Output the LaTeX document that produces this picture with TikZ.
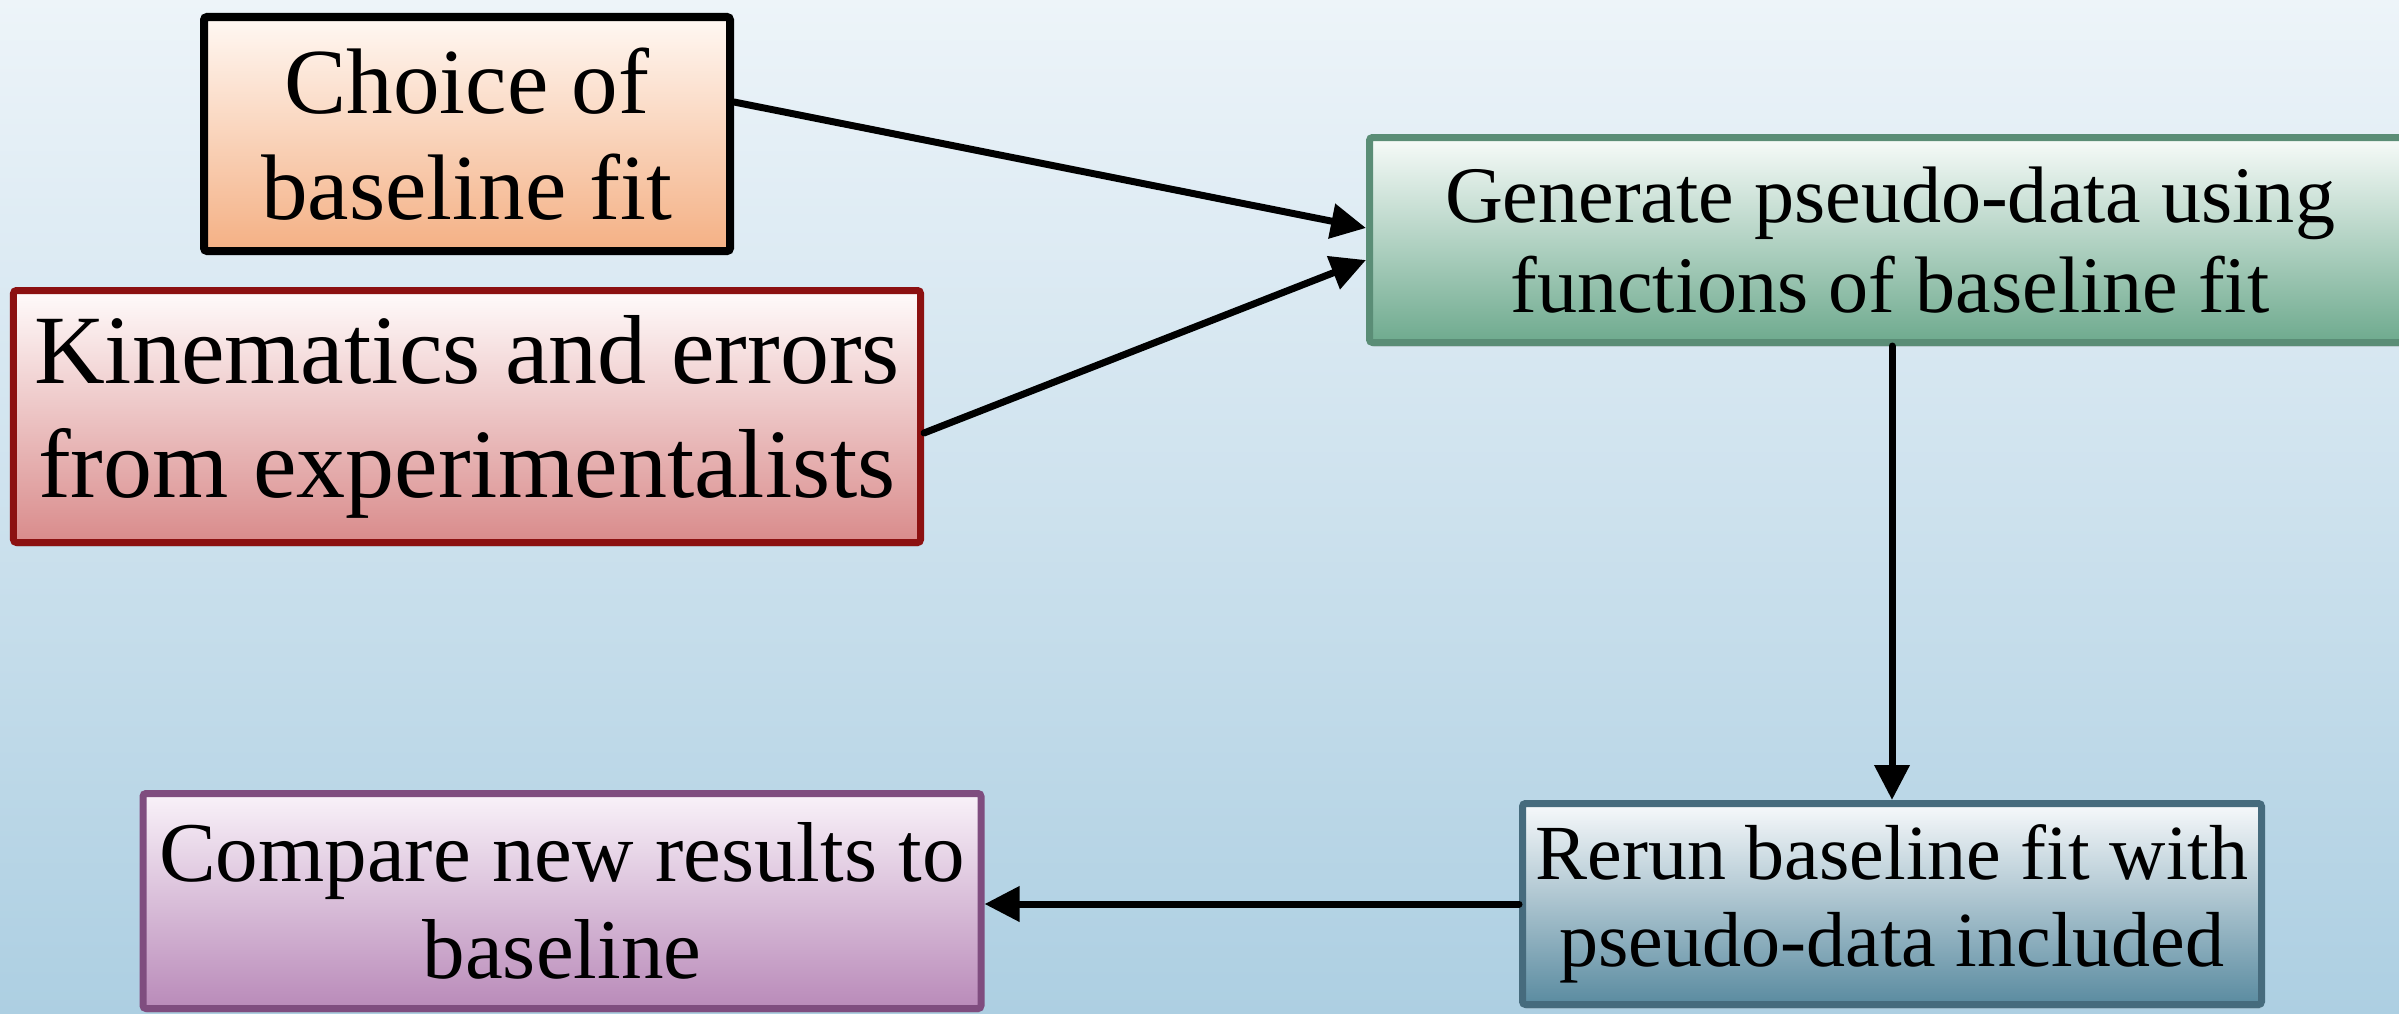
\documentclass[tikz,border=0pt]{standalone}
\usepackage{fontspec}
\setmainfont{Liberation Serif}
\usetikzlibrary{arrows.meta,shadows}
\definecolor{bgtop}{RGB}{237,244,249}
\definecolor{bgbot}{RGB}{173,207,226}
\definecolor{chtop}{RGB}{255,248,243}
\definecolor{chbot}{RGB}{244,176,132}
\definecolor{kitop}{RGB}{255,251,251}
\definecolor{kibot}{RGB}{217,139,139}
\definecolor{kidraw}{RGB}{140,17,17}
\definecolor{getop}{RGB}{247,251,249}
\definecolor{gebot}{RGB}{110,170,142}
\definecolor{gedraw}{RGB}{90,141,118}
\definecolor{retop}{RGB}{247,249,251}
\definecolor{rebot}{RGB}{90,139,160}
\definecolor{redraw}{RGB}{70,107,125}
\definecolor{cotop}{RGB}{249,242,249}
\definecolor{cobot}{RGB}{185,138,185}
\definecolor{codraw}{RGB}{127,77,127}
\tikzset{
  flowbox/.style={rectangle, rounded corners=0.03cm, line width=0.07cm, align=center,
    inner sep=0pt, drop shadow={shadow xshift=0.01cm, shadow yshift=-0.04cm, opacity=0.25}},
  conn/.style={line width=0.07cm, line cap=round, -{Triangle[length=0.35cm,width=0.34cm]}}
}
\begin{document}
\begin{tikzpicture}
\useasboundingbox (0,0) rectangle (23.99,-10.13);
\clip (0,0) rectangle (23.99,-10.13);
\shade[top color=bgtop, bottom color=bgbot] (0,0) rectangle (23.99,-10.13);

\node[flowbox, draw=black, line width=0.08cm, top color=chtop, bottom color=chbot,
  minimum width=5.26cm, minimum height=2.34cm,
  font=\fontsize{26.5}{30.2}\selectfont] (choice) at (4.67,-1.34)
  {Choice of\\baseline fit};

\node[flowbox, draw=kidraw, top color=kitop, bottom color=kibot,
  minimum width=9.07cm, minimum height=2.52cm,
  font=\fontsize{27.9}{32.4}\selectfont] (kin) at (4.67,-4.165)
  {Kinematics and errors\\from experimentalists};

\node[flowbox, draw=gedraw, top color=getop, bottom color=gebot,
  minimum width=10.41cm, minimum height=2.05cm,
  font=\fontsize{22.8}{25.6}\selectfont] (gen) at (18.90,-2.40)
  {Generate pseudo-data using\\functions of baseline fit};

\node[flowbox, draw=redraw, top color=retop, bottom color=rebot,
  minimum width=7.39cm, minimum height=2.01cm,
  font=\fontsize{22.2}{24.8}\selectfont] (rerun) at (18.92,-9.04)
  {Rerun baseline fit with\\pseudo-data included};

\node[flowbox, draw=codraw, top color=cotop, bottom color=cobot,
  minimum width=8.38cm, minimum height=2.15cm,
  font=\fontsize{24.2}{27.6}\selectfont] (comp) at (5.62,-9.01)
  {Compare new results to\\baseline};

\draw[conn] ([yshift=0.32cm]choice.east) -- ([yshift=0.12cm]gen.west);
\draw[conn] ([yshift=-0.165cm]kin.east) -- ([yshift=-0.20cm]gen.west);
\draw[conn] (gen.south -| rerun.north) -- (rerun.north);
\draw[conn] (rerun.west) -- (rerun.west -| comp.east);
\end{tikzpicture}
\end{document}
